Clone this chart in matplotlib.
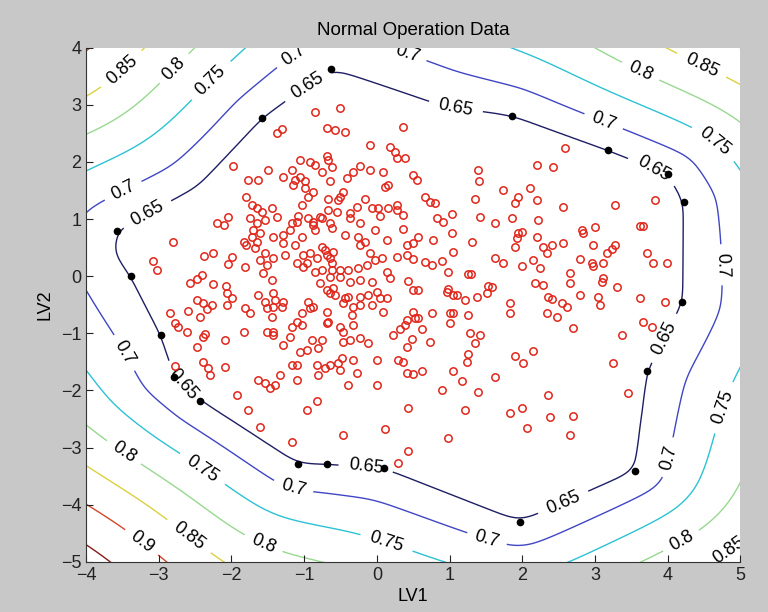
import numpy as np
import matplotlib
matplotlib.use('Agg')
from matplotlib import pyplot as plt
from matplotlib.path import Path

plt.rcParams['font.family'] = ['Liberation Sans', 'DejaVu Sans']

# normal operation scores (LV1, LV2)
scores = [
    (-1.98, 1.93), (-1.77, 1.69), (-1.63, 1.69), (-1.80, 1.39), (-1.72, 1.25), (-1.65, 1.20),
    (-2.05, 1.04), (-2.20, 0.94), (-2.10, 0.90), (-1.72, 0.69), (-1.83, 0.60), (-1.80, 0.55),
    (-2.80, 0.60), (-2.38, 0.36), (-2.25, 0.41), (-1.99, 0.34), (-2.05, 0.22), (-1.81, 0.16),
    (-3.08, 0.27), (-3.02, 0.11), (-2.40, 0.02), (-2.47, -0.05), (-2.57, -0.12), (-2.25, -0.13),
    (-2.07, -0.17),
    (-0.85, 2.88), (-0.51, 2.95), (-1.37, 2.51), (-1.30, 2.58), (-0.69, 2.60), (-0.58, 2.56),
    (-0.44, 2.53), (0.36, 2.62), (-0.09, 2.30), (0.18, 2.27), (0.25, 2.18), (0.28, 2.07),
    (0.39, 2.07), (-0.69, 2.11), (-0.67, 2.04), (-1.06, 2.04), (-0.92, 2.00), (-0.85, 1.95),
    (-0.62, 1.92), (-0.76, 1.83), (-1.50, 1.86), (-1.17, 1.86), (-1.29, 1.74), (-1.12, 1.69),
    (-1.06, 1.74), (-0.99, 1.67), (-1.15, 1.60), (-0.64, 1.67), (-0.41, 1.72), (-0.33, 1.83),
    (-0.23, 1.93), (-0.09, 1.86), (0.09, 1.83), (0.11, 1.57), (0.15, 1.60), (-0.99, 1.55),
    (-0.88, 1.48), (-0.95, 1.39), (-0.46, 1.48), (-0.51, 1.39), (-0.53, 1.34), (-0.67, 1.36),
    (-0.16, 1.36), (-1.58, 1.13), (-1.44, 1.20), (-1.37, 1.04), (-1.03, 1.25), (-0.67, 1.16),
    (-0.55, 1.13), (-0.37, 1.11), (-0.27, 1.22), (-0.07, 1.20), (0.02, 1.20), (0.04, 1.06),
    (0.15, 1.20), (0.28, 1.25), (0.28, 1.16), (0.36, 1.08), (-1.08, 1.06), (-1.10, 0.95),
    (-1.17, 0.94), (-1.19, 0.81), (-0.95, 1.02), (-0.88, 0.95), (-0.78, 1.04), (-0.76, 1.02),
    (-0.64, 0.94), (-0.62, 0.85), (-0.37, 1.02), (-0.23, 0.94), (-1.74, 1.02), (-1.65, 0.94),
    (-1.54, 0.99), (-1.70, 0.81), (-1.61, 0.76), (-0.02, 0.81), (0.36, 0.83), (-1.43, 0.69),
    (-1.29, 0.72), (-1.03, 0.69), (-0.88, 0.90), (-0.85, 0.81), (-0.44, 0.72), (-0.26, 0.69),
    (-0.16, 0.60), (-0.23, 0.55), (0.14, 0.64), (0.42, 0.55), (-1.65, 0.60), (-1.68, 0.50),
    (-1.54, 0.41), (-1.61, 0.29), (-1.51, 0.20), (-1.43, 0.32), (-1.29, 0.58), (-1.26, 0.37),
    (-1.12, 0.55), (-1.02, 0.37), (-0.96, 0.23), (-0.92, 0.41), (-0.82, 0.32), (-0.75, 0.51),
    (-0.71, 0.46), (-0.69, 0.37), (-0.64, 0.32), (-0.60, 0.43), (-0.62, 0.23), (-1.02, 0.16),
    (-0.85, 0.08), (-0.75, 0.11), (-0.62, 0.11), (-1.10, 0.23), (-0.51, 0.11), (-0.40, 0.11),
    (-0.26, 0.15), (-0.13, 0.20), (-0.02, 0.29), (-0.09, 0.41), (0.07, 0.32), (0.14, 0.08),
    (0.28, 0.34), (0.42, 0.37), (-1.57, 0.06), (-1.44, -0.06), (-0.78, -0.12), (-0.64, -0.01),
    (-0.51, -0.01), (-0.37, -0.10), (-0.23, -0.06), (-0.07, -0.10), (0.18, -0.03),
    (0.50, 1.78), (0.55, 1.69), (1.39, 1.86), (1.41, 1.67), (2.20, 1.95), (2.42, 1.92),
    (1.74, 1.51), (2.11, 1.55), (0.66, 1.39), (0.73, 1.30), (0.80, 1.29), (1.35, 1.36),
    (1.94, 1.39), (1.90, 1.29), (2.20, 1.34), (0.83, 1.02), (0.91, 0.95), (1.03, 1.09),
    (1.42, 1.04), (1.63, 0.94), (1.86, 1.02), (2.22, 0.99), (0.57, 0.69), (0.77, 0.64),
    (1.03, 0.76), (1.31, 0.60), (1.94, 0.76), (2.00, 0.78), (1.93, 0.67), (2.20, 0.69),
    (0.50, 0.58), (0.50, 0.30), (1.05, 0.43), (1.90, 0.51), (2.29, 0.51), (2.41, 0.55),
    (2.34, 0.41), (0.66, 0.25), (0.76, 0.20), (0.90, 0.27), (1.63, 0.32), (1.74, 0.23),
    (2.00, 0.18), (2.15, 0.29), (2.24, 0.15), (0.98, 0.08), (1.25, 0.04), (1.29, 0.04),
    (0.43, -0.08), (0.98, -0.22), (1.53, -0.17), (1.58, -0.19), (2.18, -0.12), (2.29, -0.15),
    (2.59, 2.25), (2.56, 1.22), (3.28, 1.25), (3.83, 1.34), (2.82, 0.81), (2.84, 0.76),
    (3.00, 0.87), (3.62, 0.88), (3.66, 0.88), (2.56, 0.58), (2.97, 0.55), (3.28, 0.55),
    (3.24, 0.48), (3.17, 0.41), (2.80, 0.30), (2.96, 0.23), (2.97, 0.18), (3.11, 0.23),
    (3.72, 0.41), (3.80, 0.23), (3.99, 0.23), (2.66, 0.06), (2.66, -0.12), (3.11, -0.03),
    (3.10, -0.10), (3.30, -0.19),
    (-2.06, -0.29), (-1.99, -0.38), (-2.06, -0.50), (-2.47, -0.41), (-2.39, -0.47), (-2.27, -0.50),
    (-2.34, -0.57), (-2.43, -0.71), (-2.60, -0.61), (-2.84, -0.64), (-2.78, -0.82), (-2.73, -0.89),
    (-2.61, -0.97), (-1.81, -0.55), (-1.74, -0.64), (-1.63, -0.33), (-1.83, -0.98), (-2.09, -1.11),
    (-2.39, -1.06), (-2.36, -1.02), (-2.47, -1.24), (-2.39, -1.50), (-2.32, -1.60), (-2.29, -1.73),
    (-2.09, -1.59), (-2.77, -1.57), (-1.92, -2.08), (-1.77, -2.34), (-1.63, -1.81), (-1.61, -2.64),
    (-0.60, -0.20), (-0.64, -0.29), (-0.58, -0.33), (-0.69, -0.24), (-1.43, -0.29), (-1.54, -0.45),
    (-1.40, -0.41), (-1.29, -0.45), (-1.51, -0.55), (-1.43, -0.54), (-1.30, -0.54), (-1.44, -0.71),
    (-0.95, -0.45), (-0.92, -0.55), (-0.88, -0.54), (-1.03, -0.64), (-0.69, -0.62), (-0.44, -0.38),
    (-0.40, -0.36), (-0.46, -0.47), (-0.23, -0.36), (-0.12, -0.33), (0.00, -0.27), (0.04, -0.38),
    (0.14, -0.38), (-0.07, -0.50), (-0.23, -0.50), (-0.33, -0.54), (-0.34, -0.68), (0.09, -0.62),
    (-1.10, -0.80), (-1.17, -0.89), (-1.03, -0.85), (-0.69, -0.82), (-0.67, -0.80), (-0.51, -0.89),
    (-0.46, -0.97), (-0.33, -0.85), (-0.46, -1.15), (-0.37, -1.11), (-1.51, -0.97), (-1.43, -0.97),
    (-1.43, -1.03), (-1.19, -1.06), (-1.29, -1.20), (-0.89, -1.11), (-0.75, -1.11), (-0.81, -1.25),
    (-1.06, -1.32), (-0.96, -1.29), (-0.23, -1.08), (-0.12, -1.17), (0.22, -1.03), (0.42, -1.24),
    (0.39, -0.85), (0.32, -0.92), (-1.17, -1.55), (-1.10, -1.55), (-0.82, -1.55), (-0.71, -1.60),
    (-0.64, -1.55), (-0.53, -1.52), (-0.51, -1.64), (-0.48, -1.43), (-0.33, -1.46), (0.00, -1.46),
    (0.29, -1.46), (0.36, -1.50), (-1.33, -1.73), (-0.81, -1.73), (-0.27, -1.69), (-1.54, -1.87),
    (-1.47, -1.95), (-1.40, -1.90), (-1.10, -1.81), (-0.40, -1.90), (0.00, -1.90), (0.42, -1.69),
    (-0.82, -2.18), (-0.96, -2.34), (0.43, -2.30), (-0.46, -2.78), (0.11, -2.67), (-1.17, -2.90),
    (0.43, -3.06), (0.29, -3.27),
    (0.50, -0.24), (0.57, -0.24), (0.97, -0.27), (1.05, -0.33), (1.10, -0.33), (1.21, -0.41),
    (1.38, -0.36), (1.52, -0.29), (1.83, -0.47), (1.83, -0.64), (2.36, -0.36), (2.41, -0.40),
    (2.34, -0.64), (2.48, -0.71), (0.50, -0.62), (0.42, -0.76), (0.53, -0.73), (0.57, -0.73),
    (0.76, -0.64), (1.01, -0.64), (1.05, -0.64), (1.01, -0.82), (1.25, -0.68), (0.62, -0.92),
    (1.28, -0.99), (1.42, -1.03), (1.35, -1.17), (0.48, -1.10), (0.73, -1.15), (1.25, -1.36),
    (1.24, -1.50), (1.90, -1.39), (2.01, -1.52), (2.15, -1.31), (0.50, -1.71), (0.62, -1.66),
    (1.05, -1.66), (1.17, -1.83), (0.90, -1.99), (1.39, -2.02), (1.63, -1.76), (2.36, -2.08),
    (2.38, -2.46), (1.21, -2.34), (1.83, -2.39), (2.00, -2.30), (2.07, -2.65), (0.98, -2.83),
    (2.80, -0.33), (3.04, -0.36), (3.07, -0.50), (2.55, -0.47), (2.62, -0.54), (3.62, -0.38),
    (3.96, -0.45), (2.70, -0.90), (3.37, -1.03), (3.66, -0.80), (3.79, -0.89), (3.25, -1.52),
    (3.46, -2.04), (2.70, -2.44), (2.66, -2.78),
]
lv1 = np.array([p[0] for p in scores])
lv2 = np.array([p[1] for p in scores])

# support vectors (black dots)
sv_x = np.array([-0.63, -1.58, -3.57, -3.38, -2.97, -2.79, -2.43, -1.08, -0.69,
                 0.10, 1.97, 3.55, 3.72, 4.20, 4.22, 4.01, 3.18, 1.86])
sv_y = np.array([3.63, 2.77, 0.80, 0.01, -1.03, -1.76, -2.18, -3.29, -3.29,
                 -3.36, -4.30, -3.41, -1.66, -0.45, 1.30, 1.79, 2.21, 2.81])

# the 0.65 line traced round the data (support vectors plus a few bends)
edge_x = np.array([-0.63, -1.58, -2.47, -3.57, -3.60, -3.38, -2.97, -2.79, -2.43, -1.08,
                   -0.69, 0.10, 1.97, 3.55, 3.72, 4.20, 4.22, 4.01, 3.18, 1.86, 0.90])
edge_y = np.array([3.63, 2.77, 1.57, 0.80, 0.40, 0.01, -1.03, -1.76, -2.18, -3.29,
                   -3.29, -3.36, -4.30, -3.41, -1.66, -0.45, 1.30, 1.79, 2.21, 2.81, 2.97])

# points
c070 = [(-4.0, 0.95), (-3.35, 1.57), (-2.61, 2.27), (-1.98, 2.91), (-1.37, 3.67), (-0.88, 4.0),
        (0.04, 3.96), (0.45, 3.79), (1.87, 3.47), (2.97, 2.95), (4.17, 2.21), (4.62, 1.57),
        (4.76, 0.76), (4.76, -0.24), (4.45, -2.29), (3.94, -3.62), (2.80, -4.56), (1.97, -4.74),
        (0.04, -4.21), (0.32, -4.27), (-1.19, -3.74), (-2.43, -2.69), (-3.35, -1.99),
        (-3.67, -1.32), (-3.97, -0.24)]
c075 = [(-4.0, 1.70), (-2.89, 2.91), (-1.72, 4.0), (1.74, 4.0), (3.25, 3.32), (4.40, 2.56),
        (5.0, 1.81), (5.0, -1.78), (4.82, -2.69), (4.17, -3.97), (2.69, -5.0), (0.91, -5.0),
        (0.28, -4.74), (-0.60, -4.27), (-1.98, -3.51), (-3.12, -2.57), (-4.0, -1.46)]
c080 = [(-4.0, 2.44), (-3.35, 3.14), (-2.47, 4.0), (3.07, 4.0), (4.17, 3.26), (5.0, 2.60),
        (5.0, -3.36), (3.85, -5.0), (-0.78, -5.0), (-1.51, -4.44), (-2.89, -3.51), (-4.0, -2.55)]
c085 = [(-4.0, 3.14), (-3.16, 4.0), (4.06, 4.0), (5.0, 3.23), (5.0, -4.27), (4.33, -5.0),
        (-1.98, -5.0), (-3.12, -4.04), (-4.0, -3.27)]
c090 = [(4.90, 4.0), (-4.0, -4.0), (-3.01, -4.97)]
c095 = [(-4.0, -4.79), (-3.81, -5.0)]

levels = [0.65, 0.7, 0.75, 0.8, 0.85, 0.9, 0.95]
line_colors = ['#1e1e64', '#4046c4', '#2cc2d4', '#98d890', '#dcd040', '#d4482a', '#861c16']

label_pos = [(-3.53, 3.65), (-2.87, 3.74), (-2.36, 3.53), (-1.13, 3.84), (-0.96, 3.35),
             (-3.53, 1.60), (-3.19, 1.16), (1.08, 2.91), (0.39, 3.80), (3.18, 2.91),
             (3.65, 3.65), (4.45, 3.65), (4.65, 2.35), (3.83, 1.95), (4.76, 0.20),
             (3.99, -1.11), (4.86, -2.34), (4.17, -3.22), (2.52, -3.83), (1.49, -4.70),
             (4.14, -4.53), (4.72, -4.58), (0.11, -4.76), (-0.16, -3.48), (-1.19, -3.88),
             (-2.43, -3.43), (-1.63, -4.88), (-2.57, -4.53), (-3.26, -4.70), (-3.53, -3.18),
             (-3.64, -1.46), (-2.75, -1.99)]


def boundary_distance(px, py):
    # signed distance to the traced 0.65 line (negative inside)
    px = np.asarray(px, float)
    py = np.asarray(py, float)
    d = np.full(px.shape, np.inf)
    n = len(edge_x)
    for i in range(n):
        x0, y0 = edge_x[i], edge_y[i]
        vx, vy = edge_x[(i + 1) % n] - x0, edge_y[(i + 1) % n] - y0
        t = np.clip(((px - x0) * vx + (py - y0) * vy) / (vx * vx + vy * vy), 0, 1)
        d = np.minimum(d, np.hypot(px - x0 - t * vx, py - y0 - t * vy))
    poly = Path(np.column_stack([edge_x, edge_y]))
    inside = poly.contains_points(np.column_stack([px.ravel(), py.ravel()])).reshape(px.shape)
    return np.where(inside, -d, d)


def blur(G, sigma):
    s = sigma / step
    k = np.arange(-int(4 * s), int(4 * s) + 1)
    w = np.exp(-0.5 * (k / s) ** 2)
    w /= w.sum()
    p = len(k) // 2
    Gp = np.pad(G, p, mode='edge')
    Gp = np.apply_along_axis(lambda r: np.convolve(r, w, mode='same'), 0, Gp)
    Gp = np.apply_along_axis(lambda r: np.convolve(r, w, mode='same'), 1, Gp)
    return Gp[p:-p, p:-p]


def sample(G, px, py):
    fx = (px - gx[0]) / step
    fy = (py - gy[0]) / step
    i0 = np.floor(fx).astype(int)
    j0 = np.floor(fy).astype(int)
    tx, ty = fx - i0, fy - j0
    return (G[j0, i0] * (1 - tx) * (1 - ty) + G[j0, i0 + 1] * tx * (1 - ty)
            + G[j0 + 1, i0] * (1 - tx) * ty + G[j0 + 1, i0 + 1] * tx * ty)


step = 0.05
gx = np.arange(-5.5, 6.5 + step / 2, step)
gy = np.arange(-6.5, 5.5 + step / 2, step)
X, Y = np.meshgrid(gx, gy)
D = boundary_distance(X, Y)
Dp = np.maximum(D, 0)
th = np.arctan2(Y - edge_y.mean(), X - edge_x.mean())

# outer field = 0.65 + sum of terms (distance, distance^2, distance*harmonics of angle),
# smoothed more the further out it is, so corners get cut like a kernel boundary does
raw_terms = [Dp, Dp ** 2]
for m in (1, 2, 3, 4):
    raw_terms += [Dp * np.cos(m * th), Dp * np.sin(m * th)]
wgt = np.clip(D / 1.2, 0, 1)
basis = [(1 - wgt) * blur(t, 0.15) + wgt * blur(t, 0.5) for t in raw_terms]

anc = [(p, lv) for pts, lv in [(c070, 0.7), (c075, 0.75), (c080, 0.8),
                               (c085, 0.85), (c090, 0.9), (c095, 0.95)] for p in pts]
a_x = np.array([a[0][0] for a in anc])
a_y = np.array([a[0][1] for a in anc])
a_lvl = np.array([a[1] for a in anc])
M = np.column_stack([sample(b, a_x, a_y) for b in basis])
coef = np.linalg.lstsq(M, a_lvl - 0.65, rcond=None)[0]

Z = 0.65 + sum(c * b for c, b in zip(coef, basis)) + coef[0] * blur(np.minimum(D, 0), 0.15)

fig = plt.figure(figsize=(7.68, 6.12), dpi=100, facecolor='#c8c8c8')
ax = fig.add_axes([0.112, 0.082, 0.852, 0.840])
ax.set_facecolor('white')

cs = ax.contour(X, Y, Z, levels=levels, colors=line_colors, linewidths=1.0, zorder=1)
ax.clabel(cs, fmt='%g', fontsize=13, colors='k', inline=True, inline_spacing=3,
          manual=label_pos)

ax.plot(lv1, lv2, 'o', mfc='none', mec='#e0261b', ms=5.3, mew=1.1, zorder=3)
ax.plot(sv_x, sv_y, 'o', color='k', ms=4.5, zorder=4)

ax.set_xlim(-4, 5)
ax.set_ylim(-5, 4)
ax.set_xticks(range(-4, 6))
ax.set_yticks(range(-5, 5))
for side in ['top', 'right']:
    ax.spines[side].set_visible(False)
for side in ['left', 'bottom']:
    ax.spines[side].set_color('#333333')
ax.tick_params(direction='in', length=5, labelsize=13, colors='#222222')
ax.set_title('Normal Operation Data', fontsize=13.5, pad=9)
ax.set_xlabel('LV1', fontsize=13, labelpad=3)
ax.set_ylabel('LV2', fontsize=13, labelpad=5)

fig.savefig('out.png', dpi=100, facecolor=fig.get_facecolor())
